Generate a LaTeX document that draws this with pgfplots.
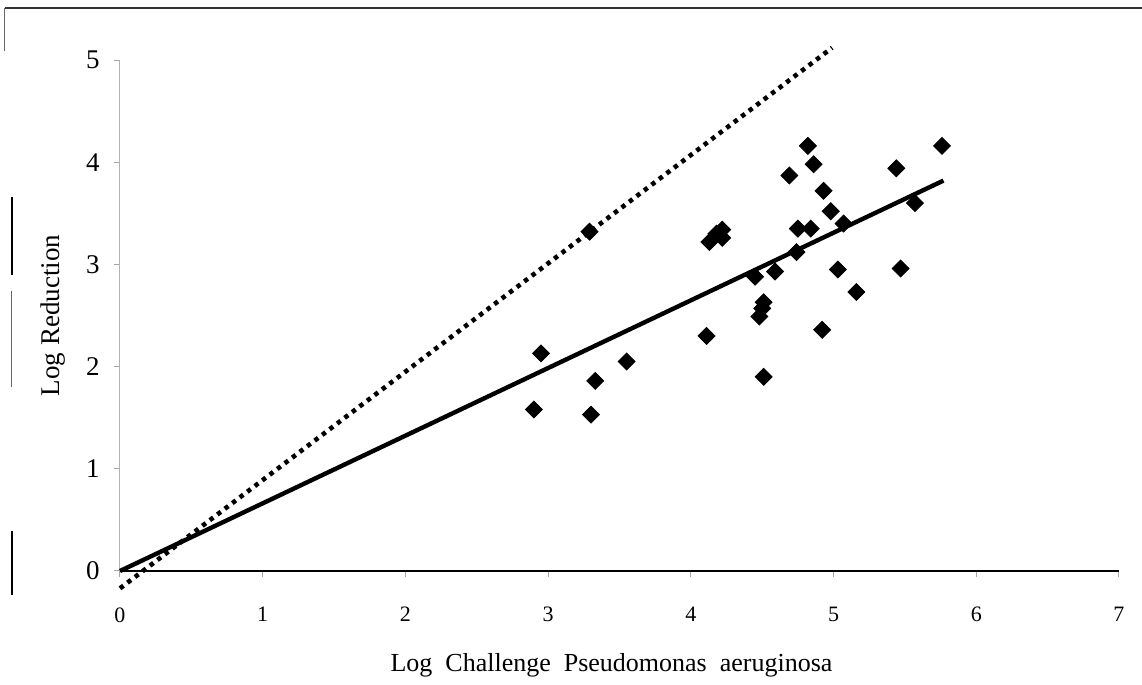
\documentclass[border=0pt]{standalone}
\usepackage{fontspec}
\setmainfont{Liberation Serif}
\usepackage{pgfplots}
\pgfplotsset{compat=1.18}
\begin{document}
\begin{tikzpicture}
\useasboundingbox (-60pt,-57pt) rectangle (511pt,285.5pt);
% scanned page frame remnants
\draw[black!80, line width=0.9pt] (-57.5pt,281.5pt) -- (511pt,281.5pt);
\draw[black!60, line width=0.5pt] (-57.5pt,281.5pt) -- (-57.5pt,260pt);
\draw[black, line width=1.3pt] (-54pt,187pt) -- (-54pt,148pt);
\draw[black!60, line width=0.5pt] (-54pt,140pt) -- (-54pt,92pt);
\draw[black, line width=1pt] (-54pt,20pt) -- (-54pt,-12pt);
\begin{axis}[
  at={(0pt,0pt)}, anchor=south west,
  scale only axis,
  width=499.5pt, height=255.5pt,
  xmin=0, xmax=7, ymin=0, ymax=5,
  clip=false,
  axis x line=bottom, axis y line=left,
  axis line style={-},
  x axis line style={black, line width=0.8pt},
  y axis line style={gray!60, line width=0.5pt},
  xtick={0,...,7}, ytick={0,...,5},
  tick align=outside,
  major tick length=3pt,
  tick style={gray!70, line width=0.5pt},
  /pgf/number format/assume math mode=true,
  xticklabel style={font=\fontsize{11}{13}\selectfont, inner sep=0pt, yshift=-15pt},
  yticklabel style={font=\fontsize{13.5}{15}\selectfont, inner sep=0pt, xshift=-7pt},
  xlabel={Log\ \ Challenge\ \ Pseudomonas\ \ aeruginosa},
  ylabel={Log Reduction},
  xlabel style={font=\fontsize{13}{15}\selectfont, at={(axis description cs:0.492,0)}, anchor=center, yshift=-47pt},
  ylabel style={font=\fontsize{13.5}{15}\selectfont, at={(axis description cs:0,0.5)}, anchor=center, yshift=33.5pt},
]
% fitted regression line
\addplot[black, line width=2.2pt] coordinates {(0,0) (5.77,3.82)};
% line of total kill
\addplot[black, line width=2.3pt, dash pattern=on 2.2pt off 2.5pt] coordinates {(0,-0.17) (4.99,5.12)};
% data
\addplot[only marks, mark=square*, mark size=3pt, mark options={rotate=45, fill=black, draw=black}] table {
x y
4.82 4.16
5.76 4.16
4.86 3.98
4.69 3.87
5.44 3.94
4.93 3.72
4.98 3.52
5.07 3.40
5.57 3.60
4.75 3.35
4.84 3.35
4.74 3.12
4.13 3.22
4.18 3.30
4.22 3.34
4.22 3.26
3.29 3.32
4.45 2.88
4.59 2.93
5.03 2.95
5.47 2.96
5.16 2.73
4.51 2.63
4.50 2.57
4.48 2.49
4.92 2.36
4.11 2.30
4.51 1.90
2.95 2.13
3.55 2.05
3.33 1.86
2.90 1.58
3.30 1.53
};
\end{axis}
\end{tikzpicture}
\end{document}
